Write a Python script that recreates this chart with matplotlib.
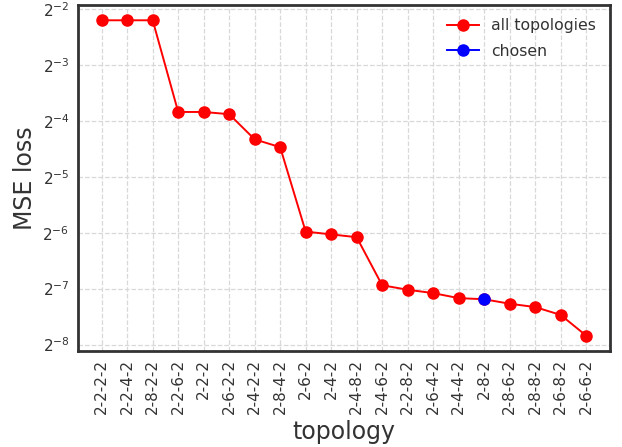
import matplotlib
matplotlib.use("Agg")
import matplotlib.pyplot as plt
import numpy as np

# topologies sorted by final loss
topologies = ["2-2-2-2", "2-2-4-2", "2-8-2-2", "2-2-6-2", "2-2-2", "2-6-2-2",
              "2-4-2-2", "2-8-4-2", "2-6-2", "2-4-2", "2-4-8-2", "2-4-6-2",
              "2-2-8-2", "2-6-4-2", "2-4-4-2", "2-8-2", "2-8-6-2", "2-8-8-2",
              "2-6-8-2", "2-6-6-2"]
log2_loss = [-2.20, -2.20, -2.20, -3.84, -3.84, -3.88, -4.33, -4.47, -5.98, -6.03,
             -6.08, -6.94, -7.02, -7.08, -7.17, -7.19, -7.27, -7.33, -7.47, -7.84]
chosen = "2-8-2"

mse = 2.0 ** np.array(log2_loss)
x = np.arange(len(topologies))
ci = topologies.index(chosen)

fig = plt.figure(figsize=(6.22, 4.47), dpi=100)
ax = fig.add_axes([0.125, 0.2155, 0.855, 0.7735])

ax.plot(x, mse, "o-", color="red", markersize=8, linewidth=1.4, label="all topologies")
ax.plot(x[ci], mse[ci], "o-", color="blue", markersize=8, linewidth=1.4, label="chosen")

ax.set_yscale("log", base=2)
ax.set_ylim(2 ** -8.11, 2 ** -1.925)
ax.set_yticks([2.0 ** k for k in range(-8, -1)])
ax.set_yticklabels([r"$2^{%d}$" % k for k in range(-8, -1)])
ax.minorticks_off()
ax.set_xticks(x)
ax.set_xticklabels(topologies, rotation=90)
ax.set_xlim(-0.94, len(topologies) - 1 + 0.92)

ax.grid(True, linestyle="--", color="#d8d8d8", linewidth=0.9)
ax.tick_params(length=0, labelsize=11, labelcolor="#333333", pad=6)
for side in ax.spines.values():
    side.set_color("#333333")
    side.set_linewidth(2)

ax.set_xlabel("topology", fontsize=17, color="#333333")
ax.set_ylabel("MSE loss", fontsize=17, color="#333333")
ax.legend(loc="upper right", frameon=False, fontsize=11.3, labelcolor="#333333",
          labelspacing=0.68, handlelength=2.0, borderaxespad=0.45)

fig.savefig("out.png")
